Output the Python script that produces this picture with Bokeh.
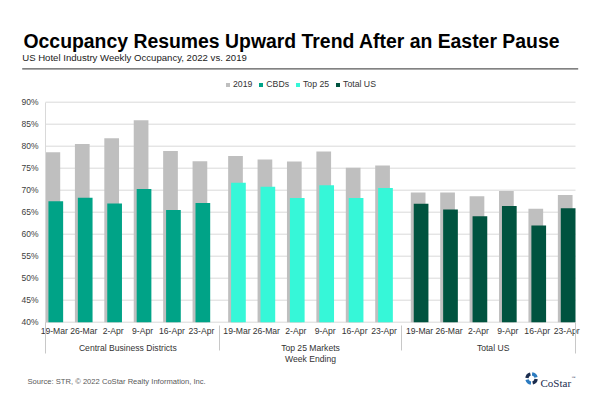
from bokeh.plotting import figure
from bokeh.models import (ColumnDataSource, FactorRange, Range1d, Legend, LegendItem, Label,
                          Arrow, PrintfTickFormatter, FixedTicker, LinearAxis, CategoricalAxis)
from bokeh.transform import dodge
from bokeh.embed import file_html
from bokeh.resources import INLINE

# ---------------- data ----------------
weeks = ["19-Mar", "26-Mar", "2-Apr", "9-Apr", "16-Apr", "23-Apr"]
groups = ["Central Business Districts", "Top 25 Markets", "Total US"]
occ_2019_cbd = [78.6, 80.5, 81.8, 85.9, 78.9, 76.6]
occ_2022_cbd = [67.5, 68.3, 67.0, 70.3, 65.5, 67.1]
occ_2019_top25 = [77.8, 77.0, 76.5, 78.8, 75.1, 75.6]
occ_2022_top25 = [71.7, 70.8, 68.2, 71.1, 68.2, 70.5]
occ_2019_total = [69.5, 69.5, 68.6, 69.8, 65.8, 68.9]
occ_2022_total = [66.9, 65.6, 64.1, 66.4, 62.0, 65.9]
y_ticks = [40, 45, 50, 55, 60, 65, 70, 75, 80, 85, 90]
series_labels = ["2019", "CBDs", "Top 25", "Total US"]

C_2019 = "#bfbfbf"
C_CBD = "#00a387"
C_TOP = "#36f7d8"
C_TOT = "#00533f"
C_GRID = "#d9d9d9"
C_SEP = "#c8c8c8"
FONT = "Liberation Sans"

W, H = 600, 400
FRAME_L = 20                  # frame spans x 20..600 and the full height
PX_PER_CAT = 29.41
Y_LO, Y_HI = 22.205, 113.114  # value range so that 40% / 90% sit at the plot-area edges
X_AXIS_AT = 0.2               # synthetic x of the value axis (left edge of plot area)
X_RIGHT = 18.22               # synthetic x of the right edge of plot area


def sx(px):
    return px - FRAME_L


def sy(py):
    return H - py


factors = [(g, w) for g in groups for w in weeks]
occ_2019 = occ_2019_cbd + occ_2019_top25 + occ_2019_total

src_2019 = ColumnDataSource(dict(x=factors, top=occ_2019))
src_cbd = ColumnDataSource(dict(x=[(groups[0], w) for w in weeks], top=occ_2022_cbd))
src_top = ColumnDataSource(dict(x=[(groups[1], w) for w in weeks], top=occ_2022_top25))
src_tot = ColumnDataSource(dict(x=[(groups[2], w) for w in weeks], top=occ_2022_total))

x_range = FactorRange(factors=factors, factor_padding=0, group_padding=0.21,
                      range_padding=0.65, range_padding_units="absolute")

p = figure(width=W, height=H, x_range=x_range, y_range=Range1d(Y_LO, Y_HI),
           x_axis_type=None, y_axis_type=None,
           output_backend="svg", toolbar_location=None,
           min_border_left=FRAME_L, min_border_right=0, min_border_top=0, min_border_bottom=0)
p.outline_line_color = None
p.background_fill_color = "white"
p.border_fill_color = "white"
p.xgrid.visible = False
p.ygrid.visible = False

# horizontal gridlines across the plot area
p.segment(x0=[X_AXIS_AT] * len(y_ticks), y0=y_ticks, x1=[X_RIGHT] * len(y_ticks), y1=y_ticks,
          line_color=C_GRID, line_width=1)

r19 = p.vbar(x=dodge("x", -0.05, range=p.x_range), top="top", bottom=40, width=0.5,
             source=src_2019, fill_color=C_2019, line_color=None)
r22 = []
for s, c in ((src_cbd, C_CBD), (src_top, C_TOP), (src_tot, C_TOT)):
    r22.append(p.vbar(x=dodge("x", 0.05, range=p.x_range), top="top", bottom=40, width=0.5,
                      source=s, fill_color=c, line_color=None))

# value axis
ya = LinearAxis(fixed_location=X_AXIS_AT, bounds=(40, 90),
                ticker=FixedTicker(ticks=y_ticks),
                formatter=PrintfTickFormatter(format="%d%%"))
ya.major_tick_out = 0
ya.major_tick_in = 0
ya.minor_tick_out = 0
ya.minor_tick_in = 0
ya.axis_line_color = C_GRID
ya.major_label_text_font = FONT
ya.major_label_text_font_size = "8.5px"
ya.major_label_text_color = "#404040"
ya.major_label_standoff = 7
p.add_layout(ya, "left")

# category axis
xa = CategoricalAxis(fixed_location=40)
xa.major_tick_out = 0
xa.major_tick_in = 0
xa.axis_line_color = None
xa.major_label_text_font = FONT
xa.major_label_text_font_size = "8.6px"
xa.major_label_text_color = "#333333"
xa.major_label_standoff = 4
xa.group_text_font = FONT
xa.group_text_font_size = "8.6px"
xa.group_text_font_style = "normal"
xa.group_text_color = "#333333"
xa.group_label_orientation = "horizontal"
xa.separator_line_color = C_SEP
xa.separator_line_width = 1
xa.axis_label = "Week Ending"
xa.axis_label_text_font = FONT
xa.axis_label_text_font_size = "8.6px"
xa.axis_label_text_font_style = "normal"
xa.axis_label_text_color = "#333333"
xa.axis_label_standoff = -3
p.add_layout(xa, "below")

# edge separators below the plot area
for px in (45, 575):
    p.add_layout(Arrow(end=None, start=None, x_start=sx(px), y_start=sy(321.7),
                       x_end=sx(px), y_end=sy(353), start_units="screen", end_units="screen",
                       line_color=C_SEP, line_width=1))

# legend
legend = Legend(items=[LegendItem(label=l, renderers=[r]) for l, r in zip(series_labels, [r19] + r22)],
                orientation="horizontal", location=(sx(225), sy(89)),
                glyph_width=5, glyph_height=5, label_height=10, label_width=10,
                label_standoff=3, spacing=6, padding=0, margin=0,
                border_line_color=None, background_fill_alpha=0,
                label_text_font=FONT, label_text_font_size="8.7px",
                label_text_color="#333333")
p.add_layout(legend, "center")

# header
p.add_layout(Label(x=sx(23), y=sy(40.7), x_units="screen", y_units="screen",
                   text="Occupancy Resumes Upward Trend After an Easter Pause",
                   text_font=FONT, text_font_size="19.4px", text_font_style="bold",
                   text_color="#000000", text_baseline="alphabetic"))
p.add_layout(Label(x=sx(21.7), y=sy(57.3), x_units="screen", y_units="screen",
                   text="US Hotel Industry Weekly Occupancy, 2022 vs. 2019",
                   text_font=FONT, text_font_size="9.6px",
                   text_color="#1a1a1a", text_baseline="alphabetic"))
p.add_layout(Arrow(end=None, start=None, x_start=sx(21.7), y_start=sy(68.3),
                   x_end=sx(577.7), y_end=sy(68.3), start_units="screen", end_units="screen",
                   line_color="#595959", line_width=1.3))

# footer
p.add_layout(Label(x=sx(27), y=sy(381), x_units="screen", y_units="screen",
                   text="Source: STR, \u00a9 2022  CoStar Realty Information, Inc.",
                   text_font=FONT, text_font_size="7.6px",
                   text_color="#595959", text_baseline="alphabetic"))
logo_x = X_AXIS_AT + (531 - 45) / PX_PER_CAT
logo_y = Y_LO + (400 - 378) / 4.4
p.annular_wedge(x=[logo_x] * 4, y=[logo_y] * 4, inner_radius=3.0, outer_radius=6.3,
                inner_radius_units="screen", outer_radius_units="screen",
                start_angle=[0.25, 1.82, 3.39, 4.96], end_angle=[1.45, 3.02, 4.59, 6.16],
                fill_color=["#2b7bc0", "#1b2d4f", "#2b7bc0", "#1b2d4f"], line_color=None)
p.add_layout(Label(x=sx(540), y=sy(382), x_units="screen", y_units="screen",
                   text="CoStar", text_font="Liberation Serif", text_font_size="11px",
                   text_color="#1b2d4f", text_baseline="alphabetic"))
p.add_layout(Label(x=sx(571), y=sy(377), x_units="screen", y_units="screen",
                   text="\u2122", text_font="Liberation Serif", text_font_size="4px",
                   text_color="#1b2d4f", text_baseline="alphabetic"))

open("out.html", "w").write(file_html(p, INLINE))
